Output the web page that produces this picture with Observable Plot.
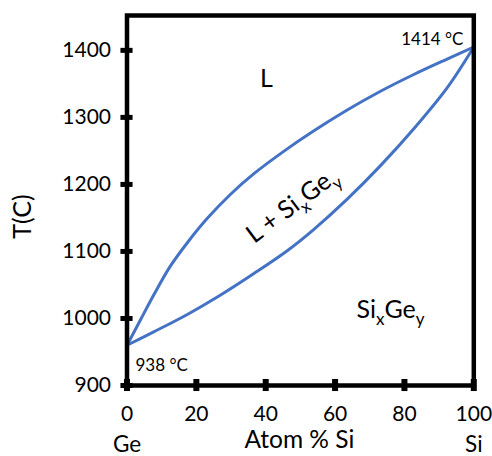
<!DOCTYPE html>
<html>
<head>
<meta charset="utf-8">
<script src="https://cdn.jsdelivr.net/npm/d3@7"></script>
<script src="https://cdn.jsdelivr.net/npm/@observablehq/plot@0.6"></script>
<style>
  html, body { margin: 0; padding: 0; background: #fff; }
  #chart svg { display: block; font-family: Lato, "Open Sans", sans-serif; }
</style>
</head>
<body>
<div id="chart"></div>
<script>
// Liquidus (upper curve)
const liqX = [0, 3.9, 7.7, 12.5, 17.4, 23.1, 29.8, 36.6, 46.2, 53.9, 63.5, 73.1, 82.7, 92.3, 100];
const liqT = [960, 998, 1035, 1078, 1113, 1149, 1185, 1216, 1253, 1280, 1311, 1339, 1364, 1387, 1405];
// Solidus (lower curve)
const solX = [0, 7.7, 17.4, 27.0, 36.6, 46.2, 53.9, 63.5, 73.1, 82.7, 92.3, 100];
const solT = [960, 980, 1006, 1035, 1067, 1101, 1133, 1178, 1228, 1283, 1344, 1405];
// Ticks
const xTicks = [0, 20, 40, 60, 80, 100];
const yTicks = [900, 1000, 1100, 1200, 1300, 1400];
// Labels
const meltSi = "1414 °C";
const meltGe = "938 °C";
const xTitle = "Atom % Si";
const yTitle = "T(C)";
const endLeft = "Ge";
const endRight = "Si";

const liquidus = liqX.map((x, i) => ({x, T: liqT[i]}));
const solidus = solX.map((x, i) => ({x, T: solT[i]}));

const blue = "#4472C4";
const font = "Lato, 'Open Sans', sans-serif";

const chart = Plot.plot({
  width: 492,
  height: 456,
  marginLeft: 126.5,
  marginRight: 18.7,
  marginTop: 15,
  marginBottom: 71,
  style: {fontFamily: font, background: "#fff"},
  x: {domain: [0, 100]},
  y: {domain: [900, 1452]},
  marks: [
    Plot.axisX({ticks: xTicks, tickSize: 0, tickPadding: 21, fontSize: 21, label: null, tickFormat: d => String(d)}),
    Plot.axisY({ticks: yTicks, tickSize: 0, tickPadding: 16, fontSize: 21, label: null, tickFormat: d => String(d)}),
    Plot.line(liquidus, {x: "x", y: "T", stroke: blue, strokeWidth: 3, curve: "catmull-rom"}),
    Plot.line(solidus, {x: "x", y: "T", stroke: blue, strokeWidth: 3, curve: "catmull-rom"}),
    Plot.frame({stroke: "#000", strokeWidth: 4.5}),
    Plot.ruleY(yTicks, {y: d => d, x1: -1.75, x2: 1.75, stroke: "#000", strokeWidth: 5}),
    Plot.ruleX(xTicks, {x: d => d, y1: 891, y2: 909, stroke: "#000", strokeWidth: 6}),
    Plot.text([meltSi], {x: 97, y: 1416, text: d => d, textAnchor: "end", fontSize: 17, fill: "#000"}),
    Plot.text([meltGe], {x: 2.45, y: 930, text: d => d, textAnchor: "start", fontSize: 17, fill: "#000"}),
    Plot.text(["L"], {x: 40.2, y: 1358, text: d => d, fontSize: 25, fill: "#000"}),
    Plot.text(["SIGE_A"], {x: 76, y: 1013, text: d => d, fontSize: 25, fill: "#000"}),
    Plot.text(["SIGE_B"], {x: 47.7, y: 1169, text: d => d, fontSize: 25, fill: "#000", rotate: -37}),
    Plot.text([xTitle], {x: 49.7, y: 818, text: d => d, fontSize: 24.5, fill: "#000"}),
    Plot.text([yTitle], {x: -30.1, y: 1152, text: d => d, fontSize: 25, fill: "#000", rotate: -90}),
    Plot.text([endLeft], {x: 0, y: 812, text: d => d, fontSize: 22.5, fill: "#000"}),
    Plot.text([endRight], {x: 100, y: 812, text: d => d, fontSize: 22.5, fill: "#000"})
  ]
});

document.getElementById("chart").appendChild(chart);

// Build subscripts for Si_x Ge_y
function subscript(el, parts) {
  el.textContent = "";
  let shifted = false;
  for (const [s, isSub] of parts) {
    const t = document.createElementNS("http://www.w3.org/2000/svg", "tspan");
    t.textContent = s;
    if (isSub) {
      t.setAttribute("font-size", "17");
      t.setAttribute("dy", "7");
      shifted = true;
    } else if (shifted) {
      t.setAttribute("dy", "-7");
      shifted = false;
    }
    el.appendChild(t);
  }
}
d3.select(chart).selectAll("text").each(function() {
  if (this.textContent === "SIGE_A") {
    subscript(this, [["Si", false], ["x", true], ["Ge", false], ["y", true]]);
  } else if (this.textContent === "SIGE_B") {
    subscript(this, [["L + Si", false], ["x", true], ["Ge", false], ["y", true]]);
  }
});
</script>
</body>
</html>
